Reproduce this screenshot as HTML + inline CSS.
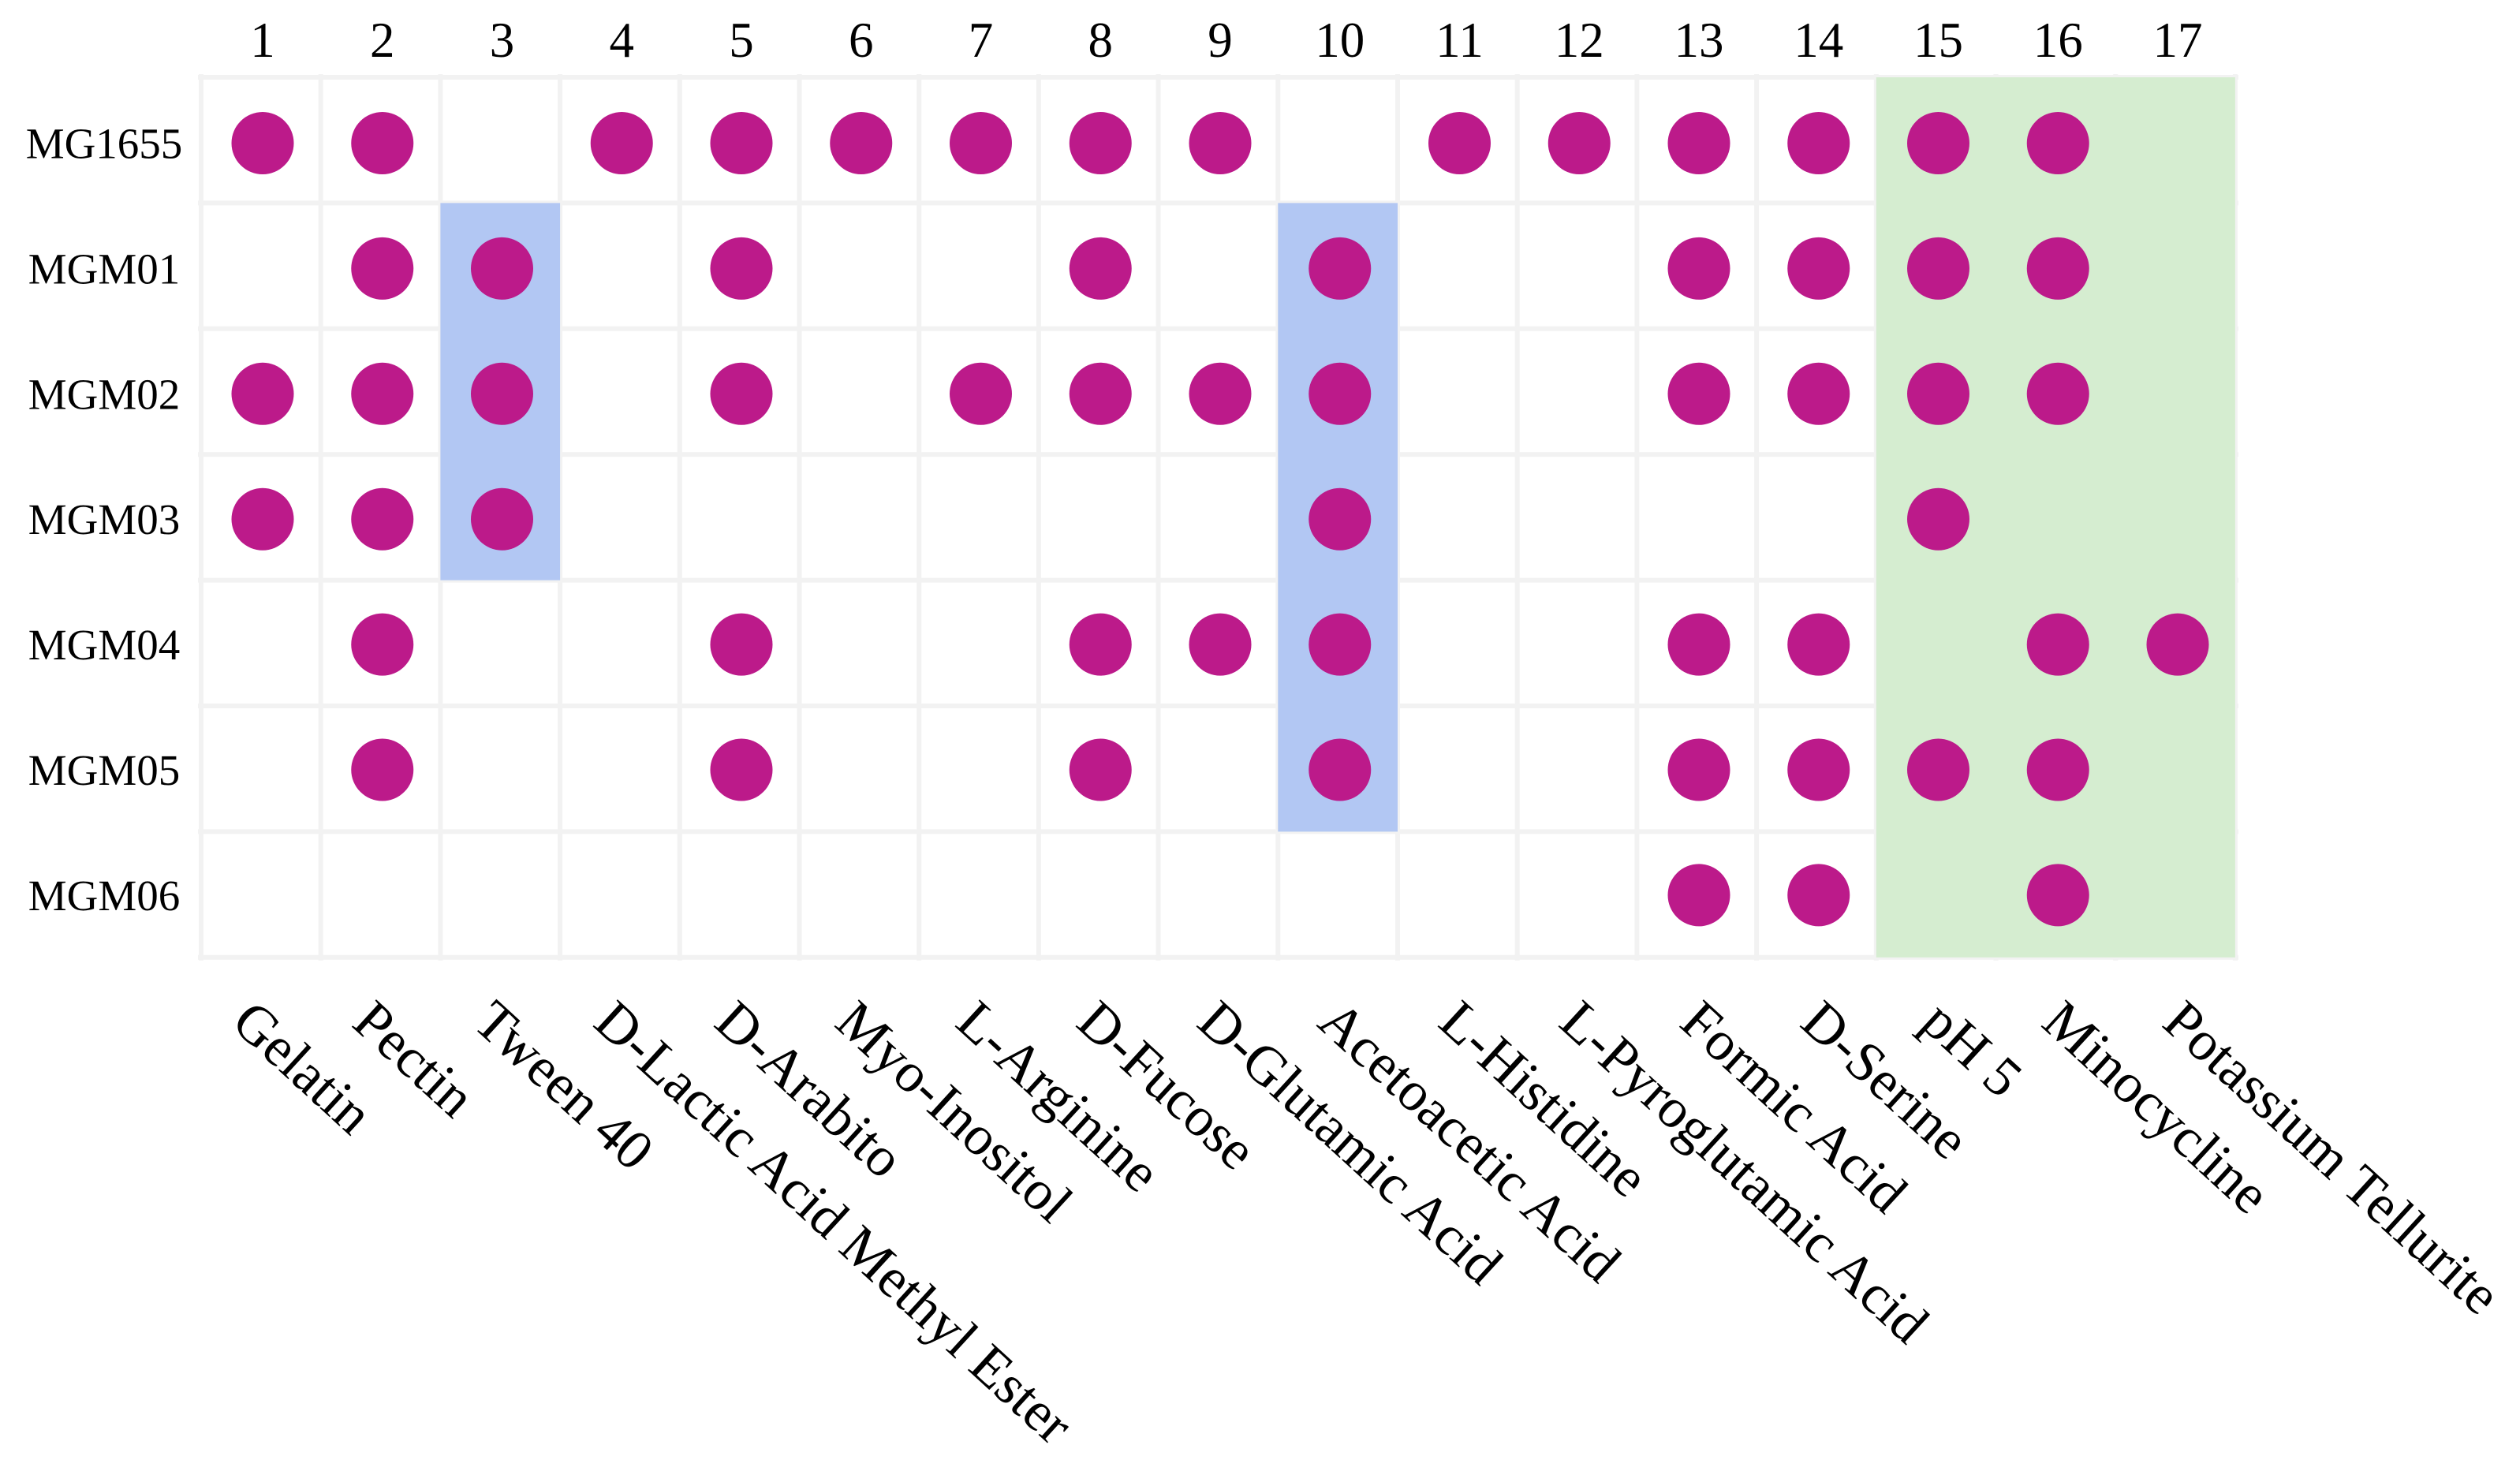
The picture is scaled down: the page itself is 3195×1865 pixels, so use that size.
<!DOCTYPE html>
<html lang="en">
<head>
<meta charset="utf-8">
<title>Phenotype matrix</title>
<style>
html,body{margin:0;padding:0;background:#fff;width:3195px;height:1865px;overflow:hidden}
svg{display:block}
text{font-family:"Liberation Serif",serif;fill:#000}
</style>
</head>
<body>
<svg id="chart" xmlns="http://www.w3.org/2000/svg" width="3195" height="1865" viewBox="0 0 3195 1865">
<rect x="0" y="0" width="3195" height="1865" fill="#ffffff"/>
</svg>
<script>
const columnNumbers = [1,2,3,4,5,6,7,8,9,10,11,12,13,14,15,16,17];
const phenotypes = ["Gelatin","Pectin","Tween 40","D-Lactic Acid Methyl Ester","D-Arabito","Myo-Inositol","L-Arginine","D-Fucose","D-Glutamic Acid","Acetoacetic Acid","L-Histidine","L-Pyroglutamic Acid","Formic Acid","D-Serine","pH 5","Minocycline","Potassium Tellurite"];
const strains = ["MG1655","MGM01","MGM02","MGM03","MGM04","MGM05","MGM06"];
const mg1655 = [1,2,4,5,6,7,8,9,11,12,13,14,15,16];
const mgm01 = [2,3,5,8,10,13,14,15,16];
const mgm02 = [1,2,3,5,7,8,9,10,13,14,15,16];
const mgm03 = [1,2,3,10,15];
const mgm04 = [2,5,8,9,10,13,14,16,17];
const mgm05 = [2,5,8,10,13,14,15,16];
const mgm06 = [13,14,16];
const strainHits = [mg1655,mgm01,mgm02,mgm03,mgm04,mgm05,mgm06];
const blueBandColumn3 = {column:3,firstStrain:1,lastStrain:3};
const blueBandColumn10 = {column:10,firstStrain:1,lastStrain:5};
const greenBand = {firstColumn:15,lastColumn:17,firstStrain:0,lastStrain:6};

const NS = "http://www.w3.org/2000/svg";
const svg = document.getElementById("chart");
const colEdge = i => 255 + 151.7 * i;
const rowEdge = i => 98 + 159.4 * i;
const colCenter = n => 333 + 151.75 * (n - 1);
const rowCenter = i => 181.5 + 158.9 * i;
const labelStart = n => 291 + 153 * (n - 1);
function make(tag, attrs, text){
  const el = document.createElementNS(NS, tag);
  for (const k in attrs) el.setAttribute(k, attrs[k]);
  if (text !== undefined) el.textContent = text;
  svg.appendChild(el);
  return el;
}
for (let i = 0; i <= strains.length; i++){
  const el = make("line",{x1:colEdge(0)-4,x2:colEdge(17)+4,y1:rowEdge(i),y2:rowEdge(i),stroke:"#f2f2f2","stroke-width":6});
  
  
}
for (let i = 0; i <= columnNumbers.length; i++){
  const el = make("line",{x1:colEdge(i),x2:colEdge(i),y1:rowEdge(0)-4,y2:rowEdge(7)+4,stroke:"#f2f2f2","stroke-width":6});
  
  
}
function band(firstCol, lastCol, firstRow, lastRow, fill, name){
  const el = make("rect",{x:colEdge(firstCol-1),y:rowEdge(firstRow),width:colEdge(lastCol)-colEdge(firstCol-1),height:rowEdge(lastRow+1)-rowEdge(firstRow),fill:fill});
  
  
}
band(blueBandColumn3.column,blueBandColumn3.column,blueBandColumn3.firstStrain,blueBandColumn3.lastStrain,"#b2c7f3","highlight-column-3");
band(blueBandColumn10.column,blueBandColumn10.column,blueBandColumn10.firstStrain,blueBandColumn10.lastStrain,"#b2c7f3","highlight-column-10");
band(greenBand.firstColumn,greenBand.lastColumn,greenBand.firstStrain,greenBand.lastStrain,"#d5edd0","highlight-columns-15-17");
columnNumbers.forEach(n => {
  const el = make("text",{x:colCenter(n),y:72,"text-anchor":"middle","font-size":63},String(n));
  
  
});
strains.forEach((s,i) => {
  const el = make("text",{x:132,y:rowCenter(i)+19,"text-anchor":"middle","font-size":55},s);
  
  
});
phenotypes.forEach((p,i) => {
  const x = labelStart(i+1);
  const y = 1300;
  const el = make("text",{x:x,y:y,"font-size":71,transform:"rotate(42.5 "+x+" "+y+")"},p);
  
  
});
strainHits.forEach((hits,i) => {
  hits.forEach(n => {
    const el = make("circle",{cx:colCenter(n),cy:rowCenter(i),r:39.5,fill:"#bc1a8a"});
    
    
  });
});
</script>
</body>
</html>
